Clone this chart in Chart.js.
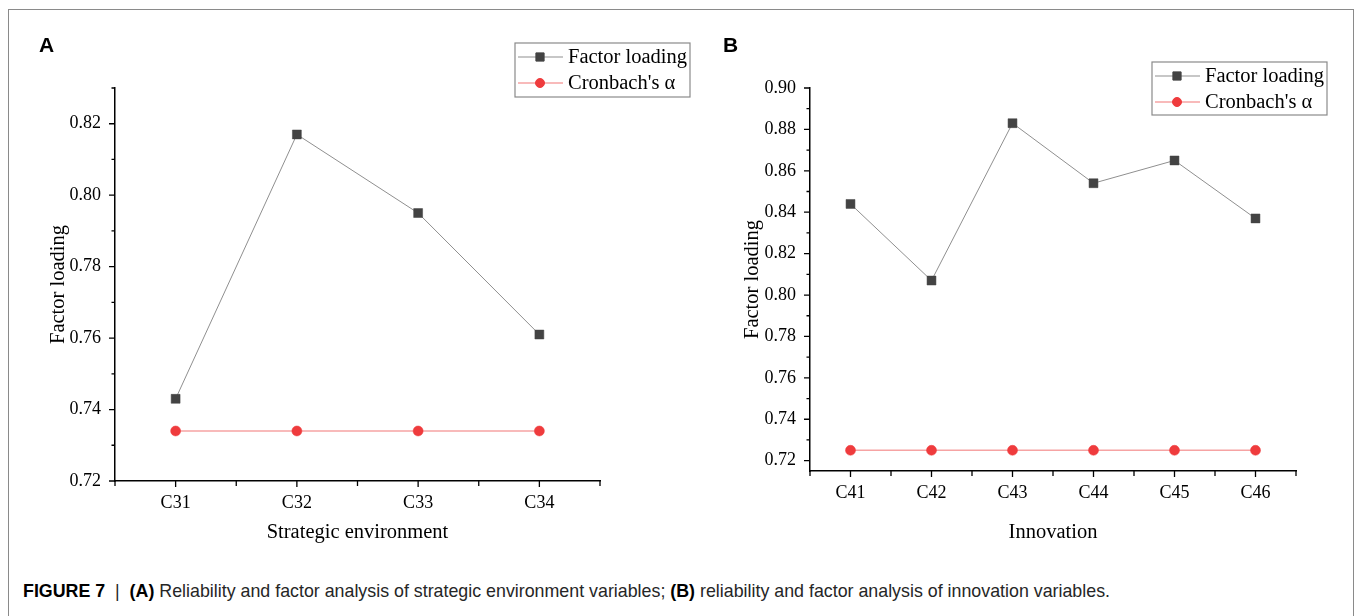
<!DOCTYPE html>
<html>
<head>
<meta charset="utf-8">
<script src="https://cdn.jsdelivr.net/npm/chart.js@4.4.0/dist/chart.umd.min.js"></script>
<style>
  html, body { margin: 0; padding: 0; background: #fff; }
  #page { position: relative; width: 1356px; height: 616px; overflow: hidden; }
  #frame { position: absolute; left: 8px; top: 9px; width: 1344px; height: 640px;
           border: 1.5px solid #8a8a8a; border-bottom: none; }
  .panel { position: absolute; top: 0; }
  .letter { position: absolute; font: bold 21px "Liberation Sans", Arial, sans-serif; color: #000; }
  #caption { position: absolute; left: 23px; top: 580px; white-space: nowrap;
             font: 19px "Liberation Sans", Arial, sans-serif; color: #262626; transform-origin: 0 0; }
  #caption b { color: #000; }
</style>
</head>
<body>
<div id="page">
  <div id="frame"></div>
  <div class="panel" style="left:0px;width:700px;height:560px;"><canvas id="chartA"></canvas></div>
  <div class="panel" style="left:700px;width:656px;height:560px;"><canvas id="chartB"></canvas></div>
  <div class="letter" style="left:39px;top:33px;">A</div>
  <div class="letter" style="left:723px;top:33px;">B</div>
  <div id="caption"><b>FIGURE 7</b> &nbsp;|&nbsp; <b>(A)</b> Reliability and factor analysis of strategic environment variables; <b>(B)</b> reliability and factor analysis of innovation variables.</div>
</div>
<script>
// panel A - strategic environment
const categoriesA = ['C31', 'C32', 'C33', 'C34'];
const factorLoadingA = [0.743, 0.817, 0.795, 0.761];
const cronbachA = [0.734, 0.734, 0.734, 0.734];
const yTicksA = [0.72, 0.74, 0.76, 0.78, 0.80, 0.82];

// panel B - innovation
const categoriesB = ['C41', 'C42', 'C43', 'C44', 'C45', 'C46'];
const factorLoadingB = [0.844, 0.807, 0.883, 0.854, 0.865, 0.837];
const cronbachB = [0.725, 0.725, 0.725, 0.725, 0.725, 0.725];
const yTicksB = [0.72, 0.74, 0.76, 0.78, 0.80, 0.82, 0.84, 0.86, 0.88, 0.90];

const seriesNames = ['Factor loading', "Cronbach's \u03b1"];

const SERIF = '"Liberation Serif", "Times New Roman", serif';

// outward ticks like Origin: major at labels, minor in between
const originTicks = {
  id: 'originTicks',
  afterDraw(chart) {
    const ctx = chart.ctx;
    const x = chart.scales.x, y = chart.scales.y;
    const area = chart.chartArea;
    ctx.save();
    ctx.strokeStyle = '#000';
    ctx.lineWidth = 1.3;
    ctx.beginPath();
    // y ticks
    const yt = y.ticks.map(t => t.value);
    const step = yt[1] - yt[0];
    yt.forEach(v => {
      const py = y.getPixelForValue(v);
      ctx.moveTo(area.left, py); ctx.lineTo(area.left - 6, py);
      const my = y.getPixelForValue(v + step / 2);
      if (my >= area.top - 0.5) { ctx.moveTo(area.left, my); ctx.lineTo(area.left - 3.5, my); }
    });
    // x ticks
    const n = chart.data.labels.length;
    for (let i = 0; i < n; i++) {
      const px = x.getPixelForValue(i);
      ctx.moveTo(px, area.bottom); ctx.lineTo(px, area.bottom + 6);
    }
    for (let i = 0; i <= n; i++) {
      const px = x.getPixelForValue(i - 0.5);
      ctx.moveTo(px, area.bottom); ctx.lineTo(px, area.bottom + 5);
    }
    ctx.stroke();
    ctx.restore();
  }
};

// boxed legend drawn from the datasets' own styles
const boxLegend = {
  id: 'boxLegend',
  afterDraw(chart, args, opts) {
    const ctx = chart.ctx;
    const b = opts.box;
    ctx.save();
    ctx.strokeStyle = '#8a8a8a';
    ctx.lineWidth = 1.2;
    ctx.strokeRect(b.left, b.top, b.width, b.height);
    chart.data.datasets.forEach((ds, i) => {
      const cy = b.top + 14 + i * 26;
      ctx.strokeStyle = ds.borderColor;
      ctx.lineWidth = ds.borderWidth;
      ctx.beginPath();
      ctx.moveTo(b.left + 3, cy); ctx.lineTo(b.left + 48, cy);
      ctx.stroke();
      ctx.fillStyle = ds.pointBackgroundColor;
      ctx.strokeStyle = ds.pointBackgroundColor;
      ctx.lineWidth = 1;
      Chart.helpers.drawPoint(ctx, { pointStyle: ds.pointStyle, radius: ds.pointRadius - 0.5, rotation: 0, borderWidth: 1 },
        b.left + 25, cy);
      ctx.fillStyle = '#000';
      ctx.font = '20.5px ' + SERIF;
      ctx.textBaseline = 'middle';
      ctx.fillText(ds.label, b.left + 53, cy + 1);
    });
    ctx.restore();
  }
};

function makeChart(id, labels, loading, alpha, yTicks, yMin, yMax, xTitle, geom) {
  const ctx = document.getElementById(id).getContext('2d');
  return new Chart(ctx, {
    type: 'line',
    data: {
      labels: labels,
      datasets: [{
        label: seriesNames[0],
        data: loading,
        borderColor: '#8f8f8f',
        borderWidth: 1,
        pointStyle: 'rect',
        pointRadius: 6.3,
        pointBackgroundColor: '#434343',
        pointBorderColor: '#434343',
        pointBorderWidth: 0.5
      }, {
        label: seriesNames[1],
        data: alpha,
        borderColor: '#f6a3a3',
        borderWidth: 1.5,
        pointStyle: 'circle',
        pointRadius: 5,
        pointBackgroundColor: '#ef3b3d',
        pointBorderColor: '#ef3b3d',
        pointBorderWidth: 0.5
      }]
    },
    options: {
      responsive: true,
      maintainAspectRatio: false,
      animation: false,
      layout: { autoPadding: false, padding: { left: 0, top: geom.top, right: geom.right, bottom: 0 } },
      plugins: {
        legend: { display: false },
        tooltip: { enabled: false },
        boxLegend: { box: geom.legend }
      },
      scales: {
        x: {
          type: 'category',
          offset: true,
          grid: { display: false, drawTicks: false },
          border: { display: true, color: '#000', width: 1.5 },
          ticks: { color: '#000', padding: 11, font: { family: SERIF, size: 18 } },
          title: { display: true, text: xTitle, color: '#000', padding: { top: 0, bottom: 15 },
                   font: { family: SERIF, size: 20.5 } },
          afterFit(scale) { scale.height = geom.xHeight; }
        },
        y: {
          type: 'linear',
          min: yMin,
          max: yMax,
          grid: { display: false, drawTicks: false },
          border: { display: true, color: '#000', width: 1.5 },
          afterBuildTicks(scale) { scale.ticks = yTicks.map(v => ({ value: v })); },
          ticks: { color: '#000', padding: 14, font: { family: SERIF, size: 18 },
                   callback: v => Number(v).toFixed(2) },
          title: { display: true, text: 'Factor loading', color: '#000', padding: { top: geom.yTitlePad, bottom: 0 },
                   font: { family: SERIF, size: 20.5 } },
          afterFit(scale) { scale.width = geom.yWidth; }
        }
      }
    },
    plugins: [originTicks, boxLegend]
  });
}

makeChart('chartA', categoriesA, factorLoadingA, cronbachA, yTicksA, 0.72, 0.83, 'Strategic environment', {
  top: 88, right: 100, xHeight: 79, yWidth: 115, yTitlePad: 46,
  legend: { left: 515, top: 43, width: 175, height: 54 }
});

makeChart('chartB', categoriesB, factorLoadingB, cronbachB, yTicksB, 0.715, 0.90, 'Innovation', {
  top: 88, right: 60, xHeight: 89, yWidth: 110, yTitlePad: 40,
  legend: { left: 452, top: 62, width: 175, height: 53 }
});

// squeeze the caption to the reference width
const cap = document.getElementById('caption');
const w = cap.getBoundingClientRect().width;
cap.style.transform = 'scaleX(' + (1087 / w) + ')';
</script>
</body>
</html>
